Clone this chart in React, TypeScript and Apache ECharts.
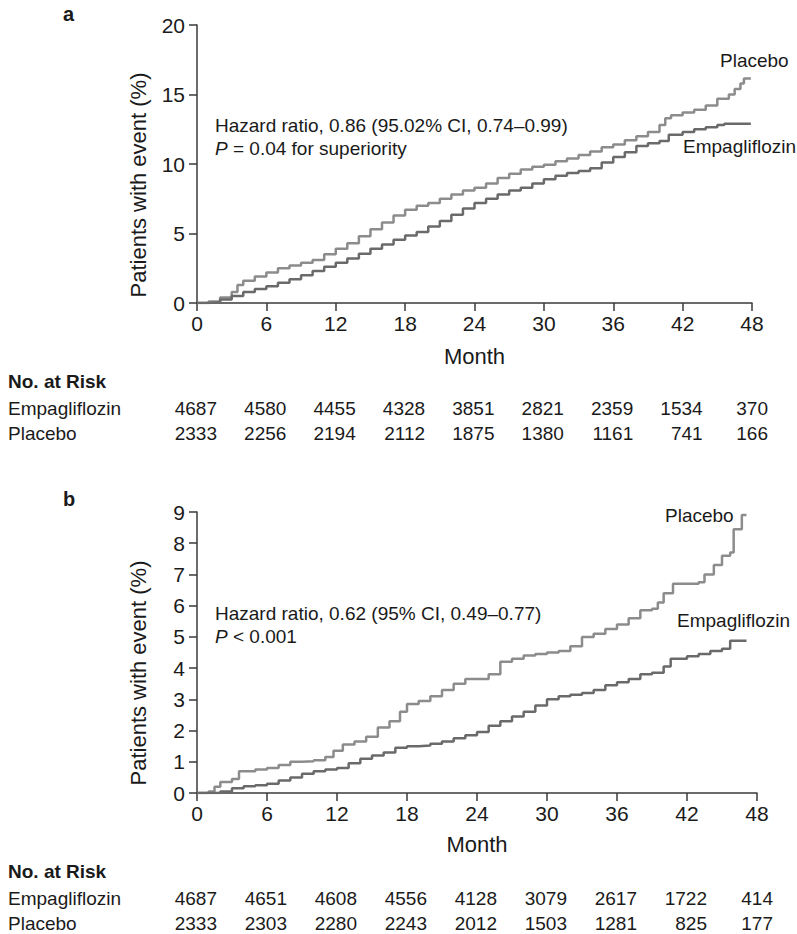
import React, { useEffect, useRef } from "react";
import * as echarts from "echarts";

// ---------- Data ----------
const monthTicks = [0, 6, 12, 18, 24, 30, 36, 42, 48];

// Panel a
const aPlaceboMonths = [0, 1, 2, 3, 3.5, 4, 5, 6, 7, 8, 9, 10, 11, 12, 13, 14, 15, 16, 17, 18, 19, 20, 21, 22, 23, 24, 25, 26, 27, 28, 29, 30, 31, 32, 33, 34, 35, 36, 37, 38, 39, 40, 40.5, 41, 42, 43, 44, 45, 46, 46.5, 47, 47.3, 47.9];
const aPlaceboValues = [0, 0.1, 0.4, 0.8, 1.3, 1.6, 1.9, 2.2, 2.5, 2.7, 2.9, 3.1, 3.5, 3.9, 4.3, 4.8, 5.3, 5.8, 6.3, 6.7, 7.0, 7.2, 7.5, 7.8, 8.1, 8.3, 8.6, 9.0, 9.3, 9.6, 9.8, 9.95, 10.2, 10.4, 10.65, 10.9, 11.2, 11.4, 11.7, 12.0, 12.3, 12.8, 13.3, 13.5, 13.7, 13.9, 14.2, 14.7, 15.0, 15.4, 15.8, 16.15, 16.15];
const aEmpaMonths = [0, 1, 2, 3, 4, 5, 6, 7, 8, 9, 10, 11, 12, 13, 14, 15, 16, 17, 18, 19, 20, 21, 22, 23, 24, 25, 26, 27, 28, 29, 30, 31, 32, 33, 34, 35, 36, 37, 38, 39, 40, 40.8, 42, 43, 44, 45, 45.6, 47.9];
const aEmpaValues = [0, 0.05, 0.25, 0.5, 0.8, 1.0, 1.2, 1.45, 1.7, 2.0, 2.3, 2.6, 2.9, 3.2, 3.55, 3.9, 4.2, 4.55, 4.85, 5.1, 5.5, 5.9, 6.35, 6.8, 7.2, 7.5, 7.8, 8.1, 8.3, 8.6, 8.9, 9.15, 9.35, 9.5, 9.7, 10.1, 10.5, 10.85, 11.3, 11.5, 11.65, 12.1, 12.3, 12.5, 12.65, 12.8, 12.9, 12.9];

// Panel b
const bPlaceboMonths = [0, 1, 1.5, 2, 3, 3.6, 5, 6, 7, 8, 9, 10, 11, 11.7, 12.5, 13.5, 14.5, 15.5, 16.5, 17.4, 18, 19, 20, 21, 22, 23, 24, 25, 26, 27, 28, 29, 30, 31, 32, 33, 34, 35, 36, 37, 38, 39, 39.5, 40, 40.8, 43, 43.5, 44.3, 45, 45.7, 46, 46.7, 47.1];
const bPlaceboValues = [0, 0.05, 0.2, 0.35, 0.45, 0.7, 0.75, 0.8, 0.9, 1.0, 1.02, 1.05, 1.15, 1.35, 1.55, 1.65, 1.8, 2.1, 2.3, 2.6, 2.85, 2.95, 3.1, 3.3, 3.5, 3.65, 3.65, 3.8, 4.2, 4.3, 4.4, 4.45, 4.5, 4.55, 4.7, 5.0, 5.1, 5.25, 5.4, 5.6, 5.85, 5.9, 6.1, 6.4, 6.7, 6.75, 7.0, 7.3, 7.6, 7.7, 8.45, 8.9, 8.9];
const bEmpaMonths = [0, 2, 3, 4, 5, 6, 7, 8, 9, 10, 11, 12, 13, 14, 15, 16, 17, 18, 19, 20, 21, 22, 23, 24, 25, 26, 27, 28, 29, 30, 31, 32, 33, 34, 35, 36, 37, 38, 39, 40, 40.6, 42, 43, 44, 45, 45.7, 47.1];
const bEmpaValues = [0, 0.05, 0.15, 0.22, 0.25, 0.3, 0.4, 0.5, 0.62, 0.7, 0.75, 0.8, 0.95, 1.1, 1.2, 1.3, 1.45, 1.5, 1.52, 1.58, 1.65, 1.75, 1.85, 1.95, 2.15, 2.3, 2.45, 2.6, 2.8, 3.0, 3.1, 3.15, 3.2, 3.3, 3.45, 3.55, 3.65, 3.8, 3.85, 4.05, 4.3, 4.38, 4.45, 4.55, 4.62, 4.88, 4.88];

// Numbers at risk
const riskAEmpa = [4687, 4580, 4455, 4328, 3851, 2821, 2359, 1534, 370];
const riskAPlacebo = [2333, 2256, 2194, 2112, 1875, 1380, 1161, 741, 166];
const riskBEmpa = [4687, 4651, 4608, 4556, 4128, 3079, 2617, 1722, 414];
const riskBPlacebo = [2333, 2303, 2280, 2243, 2012, 1503, 1281, 825, 177];

// ---------- Styling ----------
const FONT = '"Liberation Sans", Arial, Helvetica, sans-serif';
const TXT = "#1a1a1a";
const AXIS = "#3a3a3a";
const PLACEBO_COLOR = "#8c8c8c";
const EMPA_COLOR = "#6a6a6a";

const zip = (m: number[], v: number[]) => m.map((x, i) => [x, v[i]]);

const xAxisBase = (gridIndex: number, nameGap: number) => ({
  type: "value",
  gridIndex,
  min: 0,
  max: 48,
  interval: 6,
  name: "Month",
  nameLocation: "middle",
  nameGap,
  nameTextStyle: { fontSize: 22, color: TXT, fontFamily: FONT },
  axisLine: { show: true, onZero: false, lineStyle: { color: AXIS, width: 1.5 } },
  axisTick: { show: true, inside: false, length: 8, lineStyle: { color: AXIS, width: 1.5 } },
  axisLabel: { fontSize: 21, color: TXT, fontFamily: FONT, margin: 10 },
  splitLine: { show: false },
});

const yAxisBase = (gridIndex: number, max: number, interval: number) => ({
  type: "value",
  gridIndex,
  min: 0,
  max,
  interval,
  axisLine: { show: true, lineStyle: { color: AXIS, width: 1.5 } },
  axisTick: { show: true, inside: false, length: 8, lineStyle: { color: AXIS, width: 1.5 } },
  axisLabel: { fontSize: 21, color: TXT, fontFamily: FONT, margin: 12 },
  splitLine: { show: false },
});

const lineSeries = (name: string, data: number[][], axisIndex: number, color: string) => ({
  name,
  type: "line",
  xAxisIndex: axisIndex,
  yAxisIndex: axisIndex,
  data,
  step: "end",
  symbol: "none",
  showSymbol: false,
  lineStyle: { color, width: 2.5 },
  itemStyle: { color },
});

const txt = (text: string, x: number, y: number, extra: any = {}, el: any = {}) => ({
  type: "text",
  x,
  y,
  silent: true,
  ...el,
  style: {
    text,
    fill: TXT,
    fontSize: 19,
    fontFamily: FONT,
    align: "left",
    verticalAlign: "middle",
    ...extra,
  },
});

export default function App() {
  const ref = useRef<HTMLDivElement>(null);

  useEffect(() => {
    if (!ref.current) return;
    const chart = echarts.init(ref.current, undefined, { renderer: "svg" });

    chart.setOption({
      animation: false,
      backgroundColor: "#ffffff",
      grid: [
        { left: 197, top: 25, width: 555, height: 278 },
        { left: 197, top: 512, width: 560, height: 281 },
      ],
      xAxis: [xAxisBase(0, 42), xAxisBase(1, 40)],
      yAxis: [yAxisBase(0, 20, 5), yAxisBase(1, 9, 1)],
      series: [
        lineSeries("Placebo", zip(aPlaceboMonths, aPlaceboValues), 0, PLACEBO_COLOR),
        lineSeries("Empagliflozin", zip(aEmpaMonths, aEmpaValues), 0, EMPA_COLOR),
        lineSeries("Placebo", zip(bPlaceboMonths, bPlaceboValues), 1, PLACEBO_COLOR),
        lineSeries("Empagliflozin", zip(bEmpaMonths, bEmpaValues), 1, EMPA_COLOR),
      ],
    });

    const graphics: any[] = [];
    // Panel letters
    graphics.push(txt("a", 63, 14, { fontWeight: "bold", fontSize: 20 }));
    graphics.push(txt("b", 63, 499, { fontWeight: "bold", fontSize: 20 }));

    // Y axis names
    graphics.push(
      txt("Patients with event (%)", 138, 185, { fontSize: 22, align: "center" }, { rotation: Math.PI / 2 })
    );
    graphics.push(
      txt("Patients with event (%)", 138, 673, { fontSize: 22, align: "center" }, { rotation: Math.PI / 2 })
    );

    // Annotations
    const rich = { i: { fontStyle: "italic", fontSize: 19, fontFamily: FONT, fill: TXT } };
    graphics.push(txt("Hazard ratio, 0.86 (95.02% CI, 0.74\u20130.99)", 215, 125));
    graphics.push(txt("{i|P} = 0.04 for superiority", 215, 148, { rich }));
    graphics.push(txt("Hazard ratio, 0.62 (95% CI, 0.49\u20130.77)", 215, 613));
    graphics.push(txt("{i|P} < 0.001", 215, 636, { rich }));

    // Curve labels
    graphics.push(txt("Placebo", 720, 60));
    graphics.push(txt("Empagliflozin", 683, 146));
    graphics.push(txt("Placebo", 665, 515));
    graphics.push(txt("Empagliflozin", 677, 620));

    // Risk tables
    const table = (axisIndex: number, headY: number, empa: number[], placebo: number[]) => {
      graphics.push(txt("No. at Risk", 8, headY, { fontWeight: "bold" }));
      graphics.push(txt("Empagliflozin", 8, headY + 27));
      graphics.push(txt("Placebo", 8, headY + 52));
      monthTicks.forEach((m, i) => {
        const px = chart.convertToPixel({ xAxisIndex: axisIndex }, m) as number;
        const off = i === monthTicks.length - 1 ? 16 : 20;
        graphics.push(txt(String(empa[i]), px + off, headY + 27, { align: "right" }));
        graphics.push(txt(String(placebo[i]), px + off, headY + 52, { align: "right" }));
      });
    };
    table(0, 381, riskAEmpa, riskAPlacebo);
    table(1, 871, riskBEmpa, riskBPlacebo);

    chart.setOption({ graphic: graphics });

    return () => chart.dispose();
  }, []);

  return (
    <div
      ref={ref}
      style={{ position: "absolute", left: 0, top: 0, width: 797, height: 934, background: "#fff" }}
    />
  );
}
